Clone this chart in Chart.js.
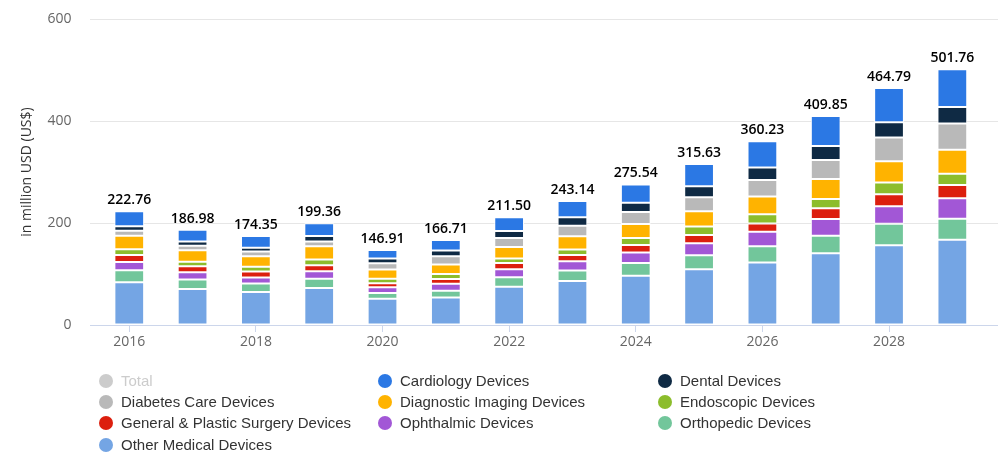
<!DOCTYPE html>
<html>
<head>
<meta charset="utf-8">
<script src="https://cdn.jsdelivr.net/npm/chart.js@4.4.1/dist/chart.umd.min.js"></script>
<style>
  html, body { margin: 0; padding: 0; background: #fff; }
  #wrap { position: relative; width: 1000px; height: 467px; }
  #legend { position: absolute; left: 0; top: 0; width: 1000px; height: 467px; pointer-events: none;
    font-family: 'Liberation Sans', Arial, sans-serif; font-size: 15px; color: #333; }
  .item { position: absolute; white-space: nowrap; line-height: 16px; }
  .dot { position: absolute; left: -22px; top: 1px; width: 14px; height: 14px; border-radius: 50%; }
</style>
</head>
<body>
<div id="wrap">
  <canvas id="chart" width="1000" height="467"></canvas>
  <div id="legend"></div>
</div>
<script>
const years = ['2016','2017','2018','2019','2020','2021','2022','2023','2024','2025','2026','2027','2028','2029'];
const totals = [222.76, 186.98, 174.35, 199.36, 146.91, 166.71, 211.50, 243.14, 275.54, 315.63, 360.23, 409.85, 464.79, 501.76];

// bottom of the stack first
const otherMedical = [84.0, 70.5, 64.6, 72.6, 51.6, 53.7, 75.1, 86.5, 96.6, 109.3, 122.5, 140.5, 156.5, 167.2];
const orthopedic   = [23.2, 18.6, 17.0, 18.3, 11.1, 13.7, 18.3, 20.3, 24.8, 27.5, 32.0, 34.6, 41.8, 41.2];
const ophthalmic   = [16.3, 14.3, 11.4, 14.4, 11.4, 13.7, 15.7, 18.3, 20.9, 23.5, 28.1, 32.7, 34.6, 39.9];
const generalSurg  = [13.7, 11.6, 11.8, 11.8, 7.8, 9.2, 12.4, 12.4, 14.4, 16.3, 16.3, 20.9, 23.5, 26.1];
const endoscopic   = [11.4, 9.2, 9.2, 11.1, 8.8, 9.8, 8.8, 10.5, 13.7, 16.3, 18.3, 18.3, 22.9, 22.2];
const diagnostic   = [26.5, 22.5, 20.9, 26.1, 18.0, 18.6, 22.5, 26.1, 27.5, 30.1, 34.6, 39.2, 41.8, 47.1];
const diabetes     = [9.8, 8.8, 9.2, 9.5, 12.4, 16.0, 17.6, 20.3, 23.5, 27.5, 32.7, 37.3, 46.4, 51.6];
const dental       = [8.5, 8.0, 7.2, 10.8, 9.2, 11.4, 13.7, 17.0, 18.3, 21.6, 24.2, 27.5, 30.1, 32.0];
const cardiology   = [29.4, 23.5, 23.1, 24.9, 16.6, 20.6, 27.4, 31.7, 35.8, 43.5, 51.5, 58.9, 67.1, 74.4];

const yTicks = [0, 200, 400, 600];

// legend order (top of stack first)
const series = [
  { label: 'Total', data: totals, color: '#cccccc', hidden: true },
  { label: 'Cardiology Devices', data: cardiology, color: '#2b78e4' },
  { label: 'Dental Devices', data: dental, color: '#0f2a44' },
  { label: 'Diabetes Care Devices', data: diabetes, color: '#b9b9b9' },
  { label: 'Diagnostic Imaging Devices', data: diagnostic, color: '#ffb300' },
  { label: 'Endoscopic Devices', data: endoscopic, color: '#8cbd2c' },
  { label: 'General & Plastic Surgery Devices', data: generalSurg, color: '#dc1f0e' },
  { label: 'Ophthalmic Devices', data: ophthalmic, color: '#a257d6' },
  { label: 'Orthopedic Devices', data: orthopedic, color: '#72c69b' },
  { label: 'Other Medical Devices', data: otherMedical, color: '#74a5e4' }
];

const datasets = series.slice().reverse().map(s => ({
  label: s.label,
  data: s.data,
  backgroundColor: s.color,
  borderColor: '#ffffff',
  borderWidth: 1,
  borderSkipped: false,
  hidden: !!s.hidden,
  stack: s.label === 'Total' ? 'total' : 'devices'
}));

// horizontal grid + baseline spanning wider than the plot area
const gridPlugin = {
  id: 'grid',
  beforeDatasetsDraw(chart) {
    const { ctx } = chart;
    const y = chart.scales.y;
    ctx.save();
    ctx.lineWidth = 1;
    yTicks.forEach(v => {
      const py = Math.round(y.getPixelForValue(v)) + 0.5;
      ctx.strokeStyle = v === 0 ? '#ccd6eb' : '#e6e6e6';
      ctx.beginPath();
      ctx.moveTo(90, py);
      ctx.lineTo(998, py);
      ctx.stroke();
    });
    ctx.restore();
  }
};

const totalLabels = {
  id: 'totalLabels',
  afterDatasetsDraw(chart) {
    const { ctx } = chart;
    const x = chart.scales.x, y = chart.scales.y;
    ctx.save();
    ctx.font = '600 14px "Open Sans", sans-serif';
    ctx.fillStyle = '#000';
    ctx.textAlign = 'center';
    ctx.textBaseline = 'bottom';
    totals.forEach((t, i) => {
      ctx.fillText(t.toFixed(2), x.getPixelForValue(i), y.getPixelForValue(t) - 4);
    });
    ctx.restore();
  }
};

const chart = new Chart(document.getElementById('chart'), {
  type: 'bar',
  data: { labels: years, datasets },
  options: {
    responsive: false,
    animation: false,
    layout: { padding: { top: 19, right: 16, left: 0, bottom: 0 } },
    datasets: { bar: { categoryPercentage: 0.47, barPercentage: 1 } },
    plugins: { legend: { display: false }, tooltip: { enabled: false } },
    scales: {
      x: {
        stacked: true,
        afterFit: s => { s.height = 142; },
        border: { display: false },
        grid: { display: true, drawOnChartArea: false, drawTicks: true, tickLength: 7, color: '#ccd6eb', offset: false },
        ticks: {
          autoSkip: false, maxRotation: 0, padding: 2,
          color: '#666', font: { family: '"Open Sans", sans-serif', size: 14 },
          callback: (v, i) => (i % 2 === 0 ? years[i] : null)
        }
      },
      y: {
        stacked: true,
        min: 0, max: 600,
        afterFit: s => { s.width = 97.6; },
        border: { display: false },
        // invisible tick marks push the labels left without adding top padding
        grid: { display: true, drawOnChartArea: false, drawTicks: true, tickLength: 23, color: 'rgba(0,0,0,0)' },
        afterBuildTicks: s => { s.ticks = yTicks.map(v => ({ value: v })); },
        ticks: { padding: 3, color: '#666', font: { family: '"Open Sans", sans-serif', size: 14 } },
        title: {
          display: true, text: 'in million USD (US$)', color: '#333',
          font: { family: '"Open Sans", sans-serif', size: 14 },
          padding: { top: 19, bottom: 0 }
        }
      }
    }
  },
  plugins: [gridPlugin, totalLabels]
});

// three-column legend under the plot
const legend = document.getElementById('legend');
const colX = [121, 400, 680];
const rowY = [373, 394, 415, 437];
series.forEach((s, i) => {
  const el = document.createElement('div');
  el.className = 'item';
  el.style.left = colX[i % 3] + 'px';
  el.style.top = rowY[Math.floor(i / 3)] + 'px';
  if (s.hidden) el.style.color = '#cccccc';
  const dot = document.createElement('span');
  dot.className = 'dot';
  dot.style.background = s.color;
  el.appendChild(dot);
  el.appendChild(document.createTextNode(s.label));
  legend.appendChild(el);
});
</script>
</body>
</html>
